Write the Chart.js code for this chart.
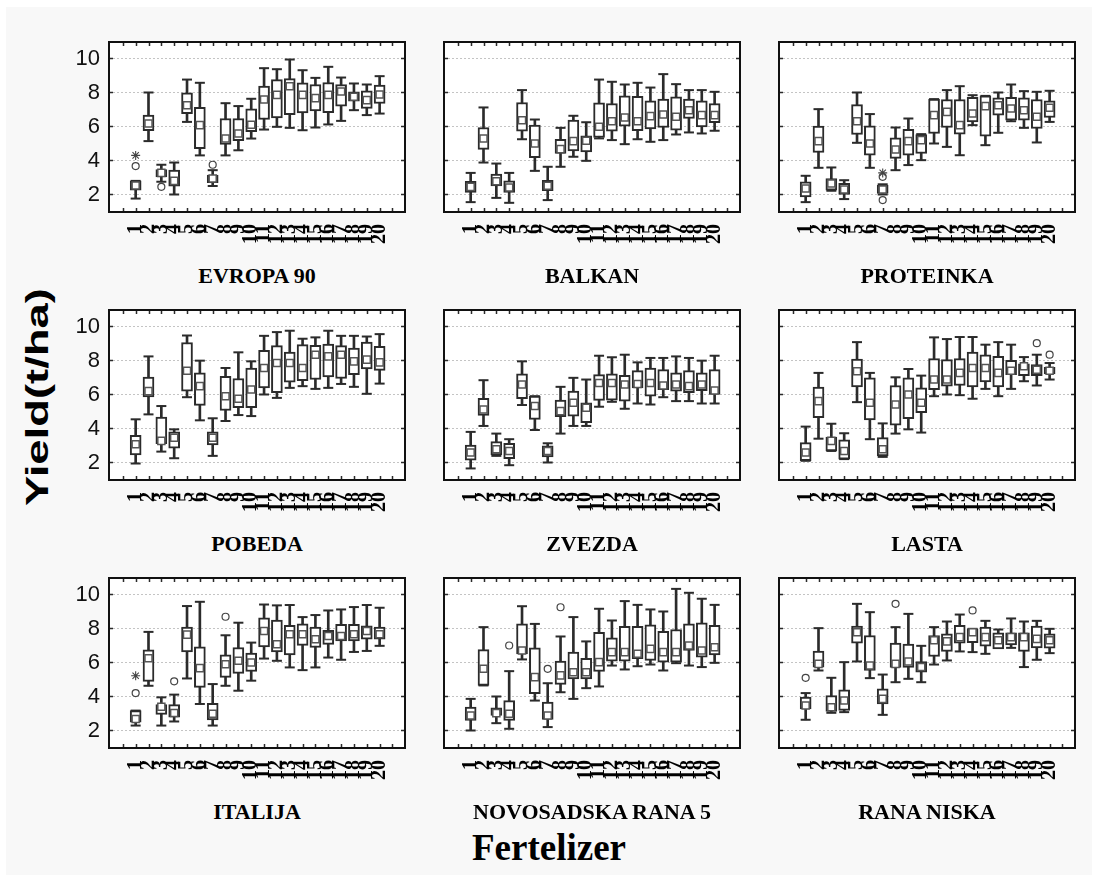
<!DOCTYPE html>
<html>
<head>
<meta charset="utf-8">
<script src="https://cdn.jsdelivr.net/npm/chart.js@4.4.1/dist/chart.umd.min.js"></script>
<style>
  body { margin: 0; background: #fff; width: 1098px; height: 882px; position: relative; overflow: hidden; }
  #sheet { position: absolute; left: 6px; top: 7px; width: 1086px; height: 868px; background: #f8f8f8; }
  canvas { position: absolute; }
  .title { position: absolute; width: 300px; text-align: center; font: bold 22px "Liberation Serif", "Times New Roman", serif; line-height: 22px; color: #000; }
  #xlab { position: absolute; left: 0; width: 1098px; top: 829px; text-align: center; font: bold 37px "Liberation Serif", "Times New Roman", serif; line-height: 38px; color: #000; }
  #ylab { position: absolute; left: 37px; top: 397px; transform: translate(-50%, -50%) rotate(-90deg) scale(1.42, 1); white-space: nowrap; font: bold 32px "Liberation Sans", Arial, sans-serif; color: #000; }
</style>
</head>
<body>
<div id="sheet"></div>
<div id="ylab">Yield(t/ha)</div>
<div id="xlab">Fertelizer</div>
<script>
// cultivars, in panel order (row by row)
const varieties = ['EVROPA 90', 'BALKAN', 'PROTEINKA', 'POBEDA', 'ZVEZDA', 'LASTA', 'ITALIJA', 'NOVOSADSKA RANA 5', 'RANA NISKA'];
// fertilizer treatments 1..20
const fertilizers = ['1','2','3','4','5','6','7','8','9','10','11','12','13','14','15','16','17','18','19','20'];
const yTicks = [2, 4, 6, 8, 10];

// one row per cultivar, one value per treatment (t/ha)
const whiskerMin = [
  [1.76, 5.14, 2.75, 2.0, 6.27, 4.3, 2.5, 4.3, 4.6, 5.29, 5.82, 5.98, 5.92, 5.78, 5.94, 6.12, 6.33, 6.96, 6.67, 6.76],
  [1.55, 3.88, 1.8, 1.51, 5.25, 3.39, 1.67, 3.63, 4.22, 3.98, 5.3, 5.2, 4.96, 5.25, 5.1, 5.2, 5.53, 5.65, 5.59, 5.75],
  [1.55, 3.57, 2.22, 1.73, 5.04, 3.57, 2.0, 3.43, 3.73, 4.02, 5.0, 4.8, 4.31, 6.08, 4.9, 5.63, 6.31, 5.92, 5.06, 6.27],
  [1.94, 4.83, 2.64, 2.25, 5.84, 4.48, 2.39, 4.44, 4.79, 4.73, 6.0, 5.8, 6.39, 6.49, 6.33, 6.39, 6.62, 6.45, 6.04, 6.64],
  [1.65, 4.15, 2.39, 1.84, 5.38, 3.91, 2.0, 3.7, 4.15, 4.15, 5.28, 5.57, 5.16, 5.47, 5.41, 5.84, 5.61, 5.61, 5.47, 5.47],
  [2.1, 3.4, 2.68, 2.2, 5.55, 3.37, 2.33, 3.7, 3.95, 3.76, 5.9, 6.0, 5.96, 5.75, 6.33, 5.9, 6.33, 6.78, 6.53, 6.88],
  [2.29, 4.63, 2.29, 2.53, 5.06, 3.56, 2.29, 4.63, 4.34, 4.93, 6.23, 6.1, 5.71, 5.55, 5.71, 6.29, 6.16, 6.62, 6.68, 6.98],
  [2.0, 4.65, 2.43, 2.1, 6.18, 3.76, 2.2, 4.25, 3.86, 4.49, 4.59, 5.82, 5.59, 5.78, 5.88, 5.53, 5.96, 5.82, 5.73, 5.98],
  [2.63, 5.53, 3.04, 3.08, 6.06, 5.08, 2.92, 4.84, 5.04, 4.84, 5.88, 6.12, 6.65, 6.61, 6.51, 6.86, 6.86, 5.73, 6.16, 6.55]
];
const boxQ1 = [
  [2.25, 5.75, 3.04, 2.49, 6.76, 4.7, 2.7, 4.94, 5.16, 5.69, 6.41, 6.51, 6.7, 6.8, 6.92, 6.82, 7.2, 7.49, 7.06, 7.35],
  [2.12, 4.65, 2.5, 2.12, 5.73, 4.16, 2.22, 4.41, 4.57, 4.51, 5.35, 5.73, 6.02, 5.76, 5.86, 5.94, 5.78, 6.47, 5.98, 6.22],
  [1.86, 4.47, 2.25, 2.0, 5.53, 4.31, 2.06, 4.12, 4.31, 4.41, 5.59, 5.94, 5.55, 6.27, 5.43, 6.67, 6.37, 6.37, 5.88, 6.53],
  [2.45, 5.86, 3.11, 2.84, 6.2, 5.36, 3.03, 5.06, 5.22, 5.22, 6.39, 6.1, 6.72, 6.82, 6.88, 7.03, 6.94, 7.17, 7.5, 7.42],
  [2.14, 4.77, 2.45, 2.23, 5.75, 4.54, 2.33, 4.69, 4.73, 4.34, 5.65, 5.67, 5.61, 6.39, 5.9, 6.29, 6.2, 6.1, 6.23, 6.0],
  [2.1, 4.63, 2.68, 2.2, 6.45, 4.5, 2.39, 4.2, 4.58, 4.93, 6.29, 6.49, 6.53, 6.45, 6.74, 6.45, 7.17, 7.11, 7.11, 7.21],
  [2.49, 4.89, 2.94, 2.78, 6.62, 4.54, 2.62, 5.12, 5.36, 5.47, 6.92, 6.62, 6.45, 7.01, 6.88, 7.07, 7.27, 7.27, 7.37, 7.37],
  [2.59, 4.65, 2.88, 2.59, 6.51, 4.16, 2.65, 4.71, 5.04, 5.04, 5.47, 6.08, 6.08, 6.22, 6.12, 6.02, 6.02, 6.71, 6.31, 6.45],
  [3.27, 5.73, 3.12, 3.18, 7.14, 5.53, 3.57, 5.71, 5.71, 5.43, 6.35, 6.65, 7.14, 7.16, 6.96, 6.8, 7.04, 6.65, 6.86, 6.84]
];
const boxMedian = [
  [2.53, 6.18, 3.27, 2.8, 7.25, 6.08, 2.94, 5.29, 5.59, 6.1, 7.59, 7.86, 8.37, 7.86, 7.67, 7.86, 8.06, 7.75, 7.55, 7.88],
  [2.45, 5.29, 2.78, 2.41, 6.37, 5.0, 2.51, 4.67, 5.14, 5.16, 5.98, 6.31, 6.53, 6.31, 6.61, 6.71, 6.57, 6.96, 6.67, 6.67],
  [2.35, 5.14, 2.65, 2.29, 6.31, 5.0, 2.29, 4.65, 5.14, 5.2, 6.67, 6.86, 6.08, 6.76, 7.2, 7.25, 7.06, 6.96, 6.57, 7.1],
  [3.07, 6.2, 3.27, 3.46, 7.4, 6.49, 3.46, 5.9, 5.75, 6.29, 7.56, 7.85, 7.85, 7.56, 8.34, 8.24, 8.34, 7.95, 8.05, 7.89],
  [2.59, 5.12, 2.78, 2.68, 6.59, 5.32, 2.68, 5.02, 5.51, 5.22, 6.68, 6.68, 6.59, 6.62, 6.68, 6.53, 6.59, 6.49, 6.59, 6.23],
  [2.59, 5.61, 3.27, 2.68, 7.37, 5.51, 2.78, 5.41, 6.0, 5.51, 6.88, 6.88, 7.27, 7.56, 7.56, 7.27, 7.4, 7.66, 7.46, 7.4],
  [2.68, 6.25, 3.4, 3.03, 7.64, 5.67, 2.98, 5.9, 6.1, 6.0, 7.85, 7.07, 7.66, 7.66, 7.37, 7.56, 7.56, 7.66, 7.85, 7.66],
  [2.88, 5.63, 3.02, 2.98, 6.71, 5.14, 2.88, 5.24, 5.43, 5.43, 6.02, 6.61, 6.61, 6.51, 6.8, 6.61, 6.61, 7.0, 6.71, 6.9],
  [3.47, 5.92, 3.37, 3.76, 7.78, 5.82, 3.86, 5.92, 6.06, 5.73, 7.31, 7.24, 7.49, 7.78, 7.49, 7.31, 7.49, 7.49, 7.39, 7.31]
];
const boxQ3 = [
  [2.8, 6.67, 3.47, 3.43, 7.98, 7.12, 3.14, 6.47, 6.47, 7.04, 8.37, 8.76, 8.82, 8.57, 8.47, 8.59, 8.47, 8.04, 8.1, 8.43],
  [2.78, 5.94, 3.2, 2.8, 7.41, 6.08, 2.84, 5.25, 6.37, 5.45, 7.39, 7.35, 7.8, 7.78, 7.51, 7.61, 7.75, 7.61, 7.51, 7.35],
  [2.75, 6.02, 2.94, 2.65, 7.29, 6.04, 2.55, 5.33, 5.84, 5.53, 7.61, 7.59, 7.59, 7.71, 7.8, 7.69, 7.71, 7.69, 7.59, 7.51],
  [3.6, 7.03, 4.67, 3.81, 9.06, 7.27, 3.81, 7.07, 6.94, 7.56, 8.6, 8.87, 8.5, 8.93, 8.89, 8.97, 8.87, 8.73, 9.08, 8.83],
  [3.03, 5.77, 3.23, 3.13, 7.21, 5.9, 2.98, 5.67, 6.2, 5.51, 7.17, 7.21, 7.13, 7.4, 7.56, 7.46, 7.27, 7.4, 7.27, 7.46],
  [3.17, 6.43, 3.5, 3.33, 8.09, 6.98, 3.46, 6.53, 6.98, 6.39, 8.11, 8.05, 8.11, 8.5, 8.34, 8.24, 8.01, 7.8, 7.76, 7.6],
  [3.17, 6.74, 3.52, 3.52, 8.09, 6.92, 3.6, 6.45, 6.88, 6.55, 8.63, 8.5, 8.19, 8.28, 8.09, 7.89, 8.24, 8.24, 8.15, 8.09],
  [3.37, 6.76, 3.33, 3.76, 8.27, 6.86, 3.67, 6.08, 6.61, 6.25, 7.78, 7.45, 8.12, 8.12, 8.22, 7.84, 7.94, 8.27, 8.33, 8.18],
  [3.96, 6.67, 4.06, 4.39, 8.14, 7.59, 4.45, 7.14, 7.08, 6.06, 7.59, 7.69, 8.18, 7.98, 8.08, 7.75, 7.75, 7.75, 8.14, 7.69]
];
const whiskerMax = [
  [2.8, 8.0, 3.75, 3.88, 8.76, 8.57, 3.43, 7.37, 7.2, 7.63, 9.43, 9.37, 9.94, 9.31, 8.86, 9.51, 8.88, 8.53, 8.47, 8.96],
  [3.27, 7.12, 3.82, 3.27, 8.14, 6.41, 3.63, 5.92, 6.63, 6.25, 8.76, 8.63, 8.47, 8.57, 8.29, 9.08, 8.49, 8.14, 8.14, 8.04],
  [3.1, 7.02, 3.59, 2.84, 8.0, 6.73, 2.6, 5.94, 6.47, 5.55, 7.61, 8.14, 8.37, 7.84, 7.8, 8.0, 8.47, 8.08, 8.04, 8.1],
  [4.54, 8.24, 5.32, 3.95, 9.47, 7.99, 4.6, 7.56, 8.48, 7.95, 9.45, 9.67, 9.75, 9.28, 9.36, 9.75, 9.45, 9.45, 9.41, 9.55],
  [3.8, 6.84, 3.7, 3.37, 7.95, 5.9, 3.13, 6.45, 6.98, 6.88, 8.28, 8.19, 8.34, 7.89, 8.15, 8.15, 8.24, 8.15, 7.99, 8.28],
  [4.11, 7.27, 4.28, 3.72, 9.08, 7.27, 4.3, 7.01, 7.5, 7.11, 9.36, 9.26, 9.38, 9.38, 8.93, 9.08, 8.93, 8.2, 8.34, 7.85],
  [3.17, 7.8, 3.95, 4.11, 9.32, 9.57, 4.73, 7.6, 8.34, 7.17, 9.41, 9.36, 9.38, 8.67, 8.79, 9.06, 9.12, 9.26, 9.38, 9.22],
  [3.86, 8.08, 4.0, 5.49, 9.31, 8.27, 4.78, 7.53, 8.67, 7.24, 9.16, 8.47, 9.61, 9.39, 9.12, 9.0, 10.33, 10.1, 9.75, 9.39],
  [4.2, 8.02, 5.1, 6.02, 9.45, 8.96, 5.29, 8.08, 8.86, 6.98, 8.08, 8.41, 8.82, 7.98, 8.45, 7.94, 8.59, 8.41, 8.45, 7.98]
];
// [cultivar index, treatment, yield]
const outliers = [
  [0, 1, 3.67], [0, 3, 2.45], [0, 7, 3.75],
  [2, 7, 1.67], [2, 7, 3.04],
  [5, 19, 9.02], [5, 20, 8.34],
  [6, 1, 4.2], [6, 4, 4.89], [6, 8, 8.69],
  [7, 4, 7.0], [7, 7, 5.63], [7, 8, 9.25],
  [8, 1, 5.1], [8, 8, 9.45], [8, 14, 9.06]
];
const extremes = [
  [0, 1, 4.3], [2, 7, 3.27], [6, 1, 5.22]
];

// panel geometry
const plotW = 296, plotH = 170;
const colLeft = [109, 444, 779];
const rowTop = [42, 310, 578];
const padL = 50, padT = 6, padR = 6, padB = 44;
const ink = '#2b2b2b';

// frame, inward tick marks and white plot background
const framePlugin = {
  id: 'frame',
  beforeDraw(chart) {
    const a = chart.chartArea, ctx = chart.ctx;
    ctx.save();
    ctx.fillStyle = '#fff';
    ctx.fillRect(a.left, a.top, a.right - a.left, a.bottom - a.top);
    ctx.restore();
  },
  afterDraw(chart) {
    const a = chart.chartArea, ctx = chart.ctx;
    const xs = chart.scales.x, ys = chart.scales.y;
    ctx.save();
    ctx.strokeStyle = ink;
    ctx.lineWidth = 1.5;
    ctx.beginPath();
    for (let v = 0; v <= 21; v++) {
      const px = Math.round(xs.getPixelForValue(v)) + 0.5;
      ctx.moveTo(px, a.top); ctx.lineTo(px, a.top + 4);
      ctx.moveTo(px, a.bottom); ctx.lineTo(px, a.bottom - 4);
    }
    yTicks.forEach(v => {
      const py = Math.round(ys.getPixelForValue(v)) + 0.5;
      ctx.moveTo(a.left, py); ctx.lineTo(a.left + 4, py);
      ctx.moveTo(a.right, py); ctx.lineTo(a.right - 4, py);
    });
    ctx.stroke();
    ctx.lineWidth = 2;
    ctx.strokeStyle = '#111';
    ctx.strokeRect(a.left, a.top, a.right - a.left, a.bottom - a.top);
    ctx.restore();
  }
};

// keep every panel's plot area the same size whatever its labels need
function fixSize(axis, key, size) {
  axis[key] = size;
  axis.paddingTop = 0; axis.paddingBottom = 0;
  axis.paddingLeft = 0; axis.paddingRight = 0;
}

function drawPanel(p) {
  const col = p % 3, row = Math.floor(p / 3);
  const canvas = document.createElement('canvas');
  canvas.width = padL + plotW + padR;
  canvas.height = padT + plotH + padB;
  canvas.style.left = (colLeft[col] - padL) + 'px';
  canvas.style.top = (rowTop[row] - padT) + 'px';
  document.body.appendChild(canvas);

  const title = document.createElement('div');
  title.className = 'title';
  title.textContent = varieties[p];
  title.style.left = (colLeft[col] + plotW / 2 - 150) + 'px';
  title.style.top = (rowTop[row] + plotH + 64 - 11) + 'px';
  document.body.appendChild(title);

  const xs = fertilizers.map(Number);
  const pts = arr => xs.map((x, i) => ({ x: x, y: arr[p][i] }));
  const mine = list => list.filter(o => o[0] === p).map(o => ({ x: o[1], y: o[2] }));

  new Chart(canvas, {
    type: 'bar',
    data: {
      datasets: [
        { // whisker stems
          type: 'bar', order: 4, grouped: false,
          data: xs.map((x, i) => ({ x: x, y: [whiskerMin[p][i], whiskerMax[p][i]] })),
          barThickness: 2, backgroundColor: ink, borderWidth: 0
        },
        { // whisker caps
          type: 'line', order: 3, showLine: false,
          data: pts(whiskerMin).concat(pts(whiskerMax)),
          pointStyle: 'line', pointRadius: 5, pointBorderWidth: 2, pointBorderColor: ink
        },
        { // quartile boxes
          type: 'bar', order: 2, grouped: false,
          data: xs.map((x, i) => ({ x: x, y: [boxQ1[p][i], boxQ3[p][i]] })),
          barThickness: 11, backgroundColor: '#fff', borderColor: ink, borderWidth: 2, borderSkipped: false
        },
        { // medians
          type: 'line', order: 1, showLine: false,
          data: pts(boxMedian),
          pointStyle: 'rect', pointRadius: 5, pointBackgroundColor: '#fff',
          pointBorderColor: '#555', pointBorderWidth: 1.5
        },
        { // outliers
          type: 'line', order: 0, showLine: false,
          data: mine(outliers),
          pointStyle: 'circle', pointRadius: 3.5, pointBackgroundColor: 'rgba(0,0,0,0)',
          pointBorderColor: '#444', pointBorderWidth: 1.2
        },
        { // extremes
          type: 'line', order: 0, showLine: false,
          data: mine(extremes),
          pointStyle: 'star', pointRadius: 4.5, pointBorderColor: '#444', pointBorderWidth: 1.1
        }
      ]
    },
    options: {
      responsive: false,
      animation: false,
      events: [],
      layout: { autoPadding: false, padding: { left: 0, top: padT, right: padR, bottom: 0 } },
      plugins: { legend: { display: false }, tooltip: { enabled: false } },
      scales: {
        x: {
          type: 'linear', min: -0.5, max: 21.4,
          afterBuildTicks: axis => { axis.ticks = xs.map(v => ({ value: v })); },
          afterFit: axis => fixSize(axis, 'height', padB),
          grid: { display: false, drawTicks: false },
          border: { display: false },
          ticks: {
            autoSkip: false, minRotation: 90, maxRotation: 90, padding: 12,
            color: '#000',
            font: { family: '"Liberation Serif", "Times New Roman", serif', size: 20, weight: 'bold' },
            callback: v => fertilizers[v - 1]
          }
        },
        y: {
          type: 'linear', min: 0.97, max: 10.97,
          afterBuildTicks: axis => { axis.ticks = yTicks.map(v => ({ value: v })); },
          afterFit: axis => fixSize(axis, 'width', padL),
          grid: { color: '#c4c4c4', lineWidth: 1, drawTicks: false },
          border: { display: false, dash: [2, 2] },
          ticks: {
            display: col === 0, padding: 9, color: '#111',
            font: { family: '"Liberation Sans", Arial, sans-serif', size: 22 }
          }
        }
      }
    },
    plugins: [framePlugin]
  });
}

varieties.forEach((v, p) => drawPanel(p));
</script>
</body>
</html>
